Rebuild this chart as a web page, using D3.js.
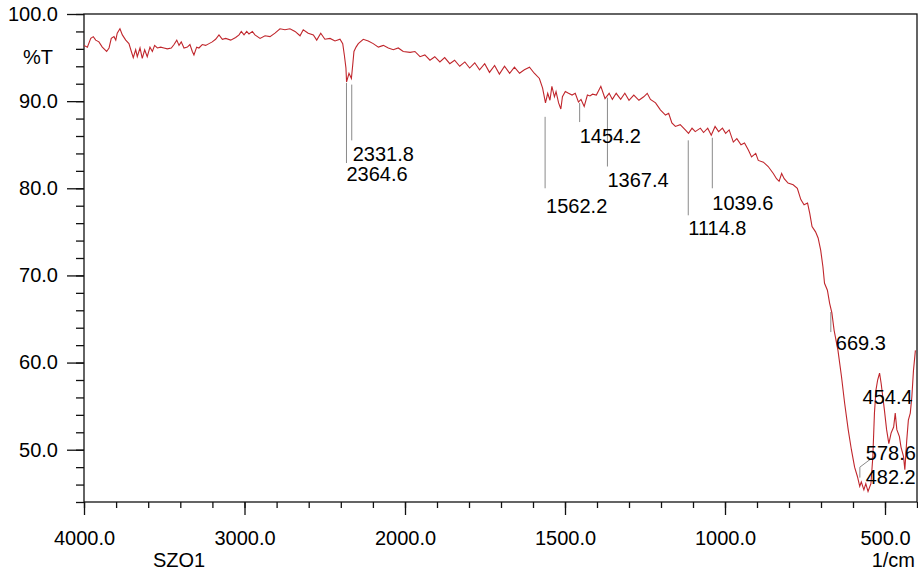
<!DOCTYPE html>
<html>
<head>
<meta charset="utf-8">
<script src="https://cdn.jsdelivr.net/npm/d3@7"></script>
<style>
  body { margin: 0; background: #fff; }
  text { font-family: "Liberation Sans", Arial, sans-serif; fill: #000; }
</style>
</head>
<body>
<script>
// spectrum (1/cm, %T)
var wavenumber = [4000,3979,3958,3942,3927,3907,3886,3859,3844,3830,3813,3802,3793,3776,3761,3740,3720,3705,3693,3678,
  3668,3651,3637,3622,3606,3589,3574,3560,3543,3522,3502,3481,3456,3439,3422,3408,3394,3377,3356,3340,
  3325,3315,3298,3284,3263,3242,3221,3201,3180,3159,3138,3117,3086,3055,3034,3020,3003,2986,2972,2951,
  2935,2903,2872,2841,2810,2779,2748,2717,2685,2654,2634,2603,2571,2550,2525,2499,2467,2436,2405,2388,
  2378,2368,2364,2349,2334,2326,2318,2305,2291,2260,2229,2198,2166,2135,2104,2073,2042,2011,1984,1969,
  1953,1938,1922,1907,1891,1876,1860,1845,1829,1813,1798,1782,1767,1751,1736,1720,1705,1689,1673,1658,
  1642,1627,1611,1596,1580,1570,1561,1554,1547,1541,1533,1528,1520,1513,1508,1499,1489,1478,1468,1458,
  1450,1440,1430,1422,1414,1402,1388,1375,1362,1352,1340,1326,1313,1300,1285,1269,1254,1243,1233,1217,
  1202,1186,1176,1166,1155,1140,1124,1114,1103,1093,1077,1067,1054,1043,1031,1020,1008,998,987,974,
  963,950,939,927,917,904,896,880,865,849,839,831,823,815,803,787,774,763,753,742,
  735,728,717,709,701,694,689,680,673,666,659,647,636,626,615,605,595,586,579,574,
  566,560,553,544,538,533,528,523,517,512,507,502,495,488,481,473,468,463,455,450,
  442,438,432,427,421,416,411,405];
var transmittance = [96.4,96.2,97.2,97.4,97.0,96.8,96.2,95.7,96.1,97.2,97.4,97.0,97.8,98.3,97.6,97.0,96.6,95.7,95.0,95.9,
  95.1,96.1,94.9,95.9,95.1,96.2,95.7,96.4,96.1,96.2,96.1,96.0,96.1,96.5,97.0,96.4,96.8,96.1,96.2,96.5,
  95.7,95.3,96.2,96.1,96.5,96.4,96.6,96.8,97.1,97.6,97.1,97.2,97.0,97.3,97.6,98.0,97.6,98.0,97.7,98.0,
  97.6,97.2,97.5,97.4,97.8,98.3,98.2,98.3,98.0,97.5,98.2,97.8,97.6,97.0,97.8,97.1,97.2,96.9,97.1,96.6,
  95.3,93.8,92.2,93.2,92.6,94.1,95.7,96.2,96.6,97.1,96.9,96.6,96.2,96.4,96.1,95.9,96.1,95.7,95.6,95.7,
  95.1,95.3,94.7,95.1,94.5,95.0,94.3,94.7,94.0,94.5,93.8,94.4,93.6,94.3,93.3,94.1,93.1,94.0,93.2,93.9,
  93.2,93.6,93.9,93.2,92.6,91.5,89.8,90.9,90.1,91.7,90.5,91.1,89.8,89.1,90.5,91.1,90.9,90.7,90.9,89.9,
  90.2,89.4,90.7,90.6,90.8,90.7,91.7,90.3,90.9,90.2,90.9,90.2,90.9,90.1,90.7,90.1,90.5,90.9,90.2,89.8,
  89.0,88.4,88.6,87.5,87.1,87.3,86.7,86.3,86.9,86.5,86.9,86.4,86.9,86.1,87.1,86.5,86.9,86.3,86.7,85.3,
  85.7,85.0,85.2,84.4,83.6,84.0,83.2,83.0,82.5,81.7,81.1,80.8,81.7,81.1,80.6,80.4,80.0,78.7,78.1,78.3,
  77.1,75.6,75.0,74.3,72.9,71.0,69.1,68.3,66.8,65.7,63.7,61.4,58.4,55.3,52.3,50.0,48.0,46.9,45.8,46.3,
  45.4,46.1,45.2,46.1,49.2,54.2,56.9,58.0,58.8,57.6,56.1,54.6,52.3,50.7,51.9,52.6,54.2,52.3,51.5,50.3,
  49.2,47.7,51.1,53.4,54.2,56.1,59.1,61.4];

// peak picks: wavenumber, label, marker line top/bottom (%T), label baseline (%T)
var peakWn     = [2364.6, 2331.8, 1562.2, 1454.2, 1367.4, 1114.8, 1039.6, 669.3, 454.4, 578.6, 482.2];
var peakLabel  = ["2364.6", "2331.8", "1562.2", "1454.2", "1367.4", "1114.8", "1039.6", "669.3", "454.4", "578.6", "482.2"];
var peakTop    = [92.1, 91.9, 88.2, 89.8, 90.4, 85.5, 85.8, 65.8, null, null, null];
var peakBottom = [82.9, 85.5, 80.0, 87.6, 82.5, 76.9, 80.0, 63.5, null, null, null];
var peakTextT  = [80.8, 83.1, 77.2, 85.2, 80.1, 74.6, 77.5, 61.4, 55.2, 48.8, 46.1];
var peakTextDx = [0, 1, 1, 0, 0, 0, 0, 5, -37, 6, -25];

var xMajor = [4000, 3000, 2000, 1500, 1000, 500];
var yMajor = [50, 60, 70, 80, 90, 100];

var margin = { top: 14, right: 1, bottom: 72, left: 84 };
var width = 918 - margin.left - margin.right;
var height = 574 - margin.top - margin.bottom;

// the instrument doubles the x scale below 2000 1/cm
var x = d3.scaleLinear()
    .domain([4000, 2000, 400])
    .range([0, 321, width]);
var y = d3.scaleLinear()
    .domain([44, 100])
    .range([height, 0]);

var svg = d3.select("body").append("svg")
    .attr("width", 918)
    .attr("height", 574)
    .append("g")
    .attr("transform", "translate(" + margin.left + "," + margin.top + ")");

// minor ticks
var xMinor = d3.range(4000, 2000, -200).concat(d3.range(2000, 399, -100));
var yMinor = d3.range(44, 100.1, 2);

svg.append("g")
    .attr("transform", "translate(0," + height + ")")
    .call(d3.axisBottom(x).tickValues(xMinor).tickSize(6).tickFormat(""))
    .call(g => g.select(".domain").remove());
svg.append("g")
    .call(d3.axisLeft(y).tickValues(yMinor).tickSize(8).tickFormat(""))
    .call(g => g.select(".domain").remove());

svg.append("g")
    .attr("transform", "translate(0," + height + ")")
    .call(d3.axisBottom(x).tickValues(xMajor).tickSize(13).tickPadding(16)
        .tickFormat(d => d.toFixed(1)))
    .call(g => g.select(".domain").remove())
    .call(g => g.selectAll("text").attr("font-size", 20).attr("font-family", null));
svg.append("g")
    .call(d3.axisLeft(y).tickValues(yMajor).tickSize(17).tickPadding(9)
        .tickFormat(d => d.toFixed(1)))
    .call(g => g.select(".domain").remove())
    .call(g => g.selectAll("text").attr("font-size", 20).attr("font-family", null));

svg.selectAll(".tick line").attr("stroke", "#111").attr("stroke-width", 1.3);

// frame
svg.append("rect")
    .attr("width", width)
    .attr("height", height)
    .attr("fill", "none")
    .attr("stroke", "#111")
    .attr("stroke-width", 1.3);

// axis titles
svg.append("text")
    .attr("x", -31).attr("y", 50)
    .attr("text-anchor", "end")
    .attr("font-size", 20)
    .text("%T");
svg.append("text")
    .attr("x", 69).attr("y", height + 65)
    .attr("font-size", 20)
    .text("SZO1");
svg.append("text")
    .attr("x", width - 2).attr("y", height + 65)
    .attr("text-anchor", "end")
    .attr("font-size", 20)
    .text("1/cm");

// peak marker lines
var peaks = peakWn.map((w, i) => ({ w: w, label: peakLabel[i], top: peakTop[i],
    bottom: peakBottom[i], t: peakTextT[i], dx: peakTextDx[i] }));

svg.append("g").selectAll("line")
    .data(peaks.filter(d => d.top != null))
    .enter().append("line")
    .attr("x1", d => x(d.w)).attr("x2", d => x(d.w))
    .attr("y1", d => y(d.top)).attr("y2", d => y(d.bottom))
    .attr("stroke", "#8a8a8a")
    .attr("stroke-width", 1);

// leader for 578.6
var leader = [[578.6, 46.8], [578.6, 48.0], [535, 49.2]];
svg.append("path")
    .datum(leader)
    .attr("fill", "none")
    .attr("stroke", "#8a8a8a")
    .attr("d", d3.line().x(d => x(d[0])).y(d => y(d[1])));

// spectrum
var spectrum = wavenumber.map((w, i) => ({ w: w, t: transmittance[i] }));
svg.append("clipPath").attr("id", "plot")
    .append("rect").attr("width", width).attr("height", height);
svg.append("path")
    .datum(spectrum)
    .attr("clip-path", "url(#plot)")
    .attr("fill", "none")
    .attr("stroke", "#c0262c")
    .attr("stroke-width", 1.1)
    .attr("d", d3.line().x(d => x(d.w)).y(d => y(d.t)));

// peak labels
svg.append("g").selectAll("text")
    .data(peaks)
    .enter().append("text")
    .attr("x", d => x(d.w) + d.dx)
    .attr("y", d => y(d.t))
    .attr("font-size", 20)
    .text(d => d.label);
</script>
</body>
</html>
